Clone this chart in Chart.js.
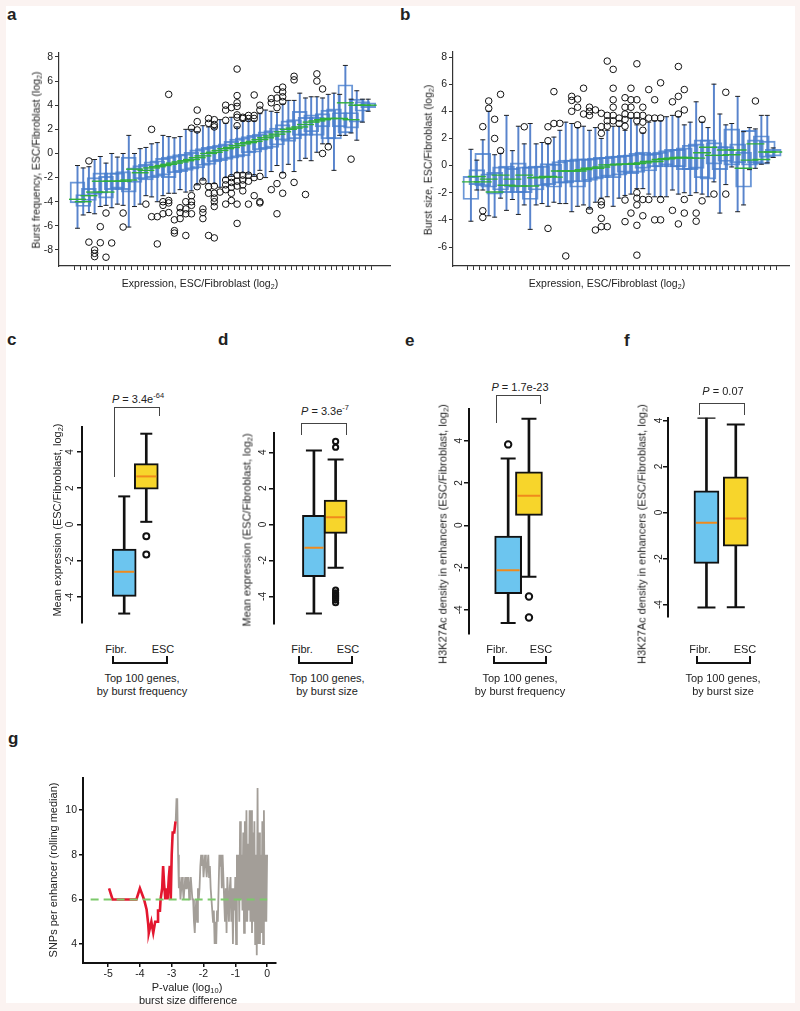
<!DOCTYPE html>
<html><head><meta charset="utf-8">
<script src="https://cdn.jsdelivr.net/npm/chart.js@4.4.1/dist/chart.umd.min.js"></script>
<style>
html,body{margin:0;padding:0;background:#fbf3f1;}
#wrap{position:relative;width:800px;height:1011px;overflow:hidden;font-family:"Liberation Sans",Arial,sans-serif;color:#222;}
#paper{position:absolute;left:6px;top:6px;width:789px;height:997px;background:#fff;}
canvas{position:absolute;}
.t{position:absolute;white-space:nowrap;transform:translate(-50%,-50%);font-size:11px;line-height:1;}
.r{transform:translate(-50%,-50%) rotate(-90deg);}
.L{position:absolute;font-weight:bold;font-size:17px;line-height:17px;}
.ln{position:absolute;}
sub{font-size:68%;vertical-align:-0.3em;line-height:0;}
sup{font-size:68%;vertical-align:0.55em;line-height:0;}
</style></head>
<body><div id="wrap"><div id="paper"></div></div>
<script>
// ---------------- Panel a : burst frequency vs expression bins ----------------
const aYTicks = [-8,-6,-4,-2,0,2,4,6,8];
const aMed = [-3.8,-4.0,-3.5,-3.2,-2.3,-3.2,-2.3,-2.3,-2.3,-2.2, -1.3,-1.6,-1.4,-1.2,-1.1,-1.0,-0.9,-0.8,-0.7,-0.6, -0.5,-0.35,-0.2,0.0,0.1,0.25,0.4,0.5,0.65,0.8, 0.9,1.0,1.15,1.3,1.45,1.6,1.8,2.0,2.1,2.2, 2.4,2.6,2.7,2.8,2.9,2.9,2.9,4.2,2.8,4.0, 4.0,4.0];
const aQ1  = [-4.1,-4.4,-3.9,-3.4,-3.3,-3.7,-3.0,-2.9,-3.0,-3.2, -2.4,-2.1,-2.2,-2.0,-1.9,-1.8,-2.0,-1.6,-1.5,-1.4, -1.3,-1.2,-1.0,-0.9,-0.7,-0.6,-0.5,-0.4,-0.3,-0.2, 0.0,0.1,0.3,0.4,0.5,0.7,1.1,1.0,1.2,1.5, 1.5,1.8,1.5,2.2,1.2,1.2,2.2,1.7,2.1,2.6, 3.5,3.8];
const aQ3  = [-2.35,-3.4,-2.9,-2.0,-1.6,-1.9,-1.6,-1.6,-1.5,-0.3, -1.2,-1.0,-0.9,-0.7,-0.6,-0.4,-0.3,-0.2,-0.1,0.0, 0.1,0.3,0.4,0.5,0.6,0.7,0.8,1.0,1.2,1.3, 1.4,1.5,1.6,1.8,1.9,2.1,2.4,2.7,2.8,3.5, 3.0,3.2,3.0,3.3,3.6,3.7,3.4,5.7,3.4,4.5, 4.3,4.2];
const aLo  = [-6.2,-5.1,-4.9,-5.0,-4.4,-4.3,-4.5,-4.2,-4.3,-6.1, -4.4,-4.2,-3.5,-3.6,-4.0,-3.5,-3.3,-3.3,-3.0,-3.2, -3.1,-2.6,-2.2,-2.5,-2.5,-2.8,-2.0,-1.9,-1.6,-1.6, -1.7,-1.9,-1.4,-2.0,-1.5,-1.0,-1.6,-0.9,-1.5,-0.6, -0.4,-0.6,0.1,0.8,0.8,-1.4,1.5,1.5,1.7,1.1, 2.6,3.5];
const aHi  = [-1.0,-1.2,-1.1,-0.5,-0.25,-0.8,0.0,-0.3,0.0,1.5, 0.0,0.4,0.5,0.8,0.9,1.5,1.4,1.3,1.4,2.0, 2.0,1.8,2.3,2.2,2.1,2.8,2.5,3.0,2.2,2.7, 2.8,2.7,3.3,3.6,3.5,3.4,4.1,4.4,4.4,5.0, 4.6,4.7,4.7,4.6,4.9,5.0,4.9,7.3,4.5,5.2, 4.5,4.5];
const aOutliers = [[3,-0.62],[3,-7.35],[4,-8.0],[4,-8.28],[4,-8.55],[5,-6.07],[5,-7.4],[6,-4.94],[6,-8.6],[7,-7.42],
 [9,-4.94],[9,-6.1],[13,-4.2],[14,2.0],[14,-5.24],[15,-5.24],[15,-7.5],[16,-4.0],[16,-4.3],[16,-5.0],
 [17,4.9],[17,-3.9],[17,-4.1],[17,-4.9],[18,-5.5],[18,-6.4],[18,-6.6],[19,-4.9],[19,-4.5],[19,-5.4],
 [20,-6.8],[20,-4.0],[20,-4.6],[20,-5.0],[21,2.1],[21,-3.5],[21,-4.0],[21,-4.3],[21,-5.0],
 [22,2.64],[22,3.6],[22,1.95],[22,-2.75],[23,-4.6],[23,-4.9],[23,-5.4],[23,-2.3],
 [24,2.9],[24,2.5],[24,-6.8],[24,-2.75],[24,-3.3],
 [25,2.8],[25,2.4],[25,2.2],[25,-2.7],[25,-3.3],[25,-3.7],[25,-4.0],[25,-4.4],[25,-7.0],[26,-3.2],
 [27,4.0],[27,2.75],[27,3.6],[27,-2.2],[27,-2.6],[27,-3.0],[27,-4.2],
 [28,3.8],[28,-2.0],[28,-2.4],[28,-2.8],[28,-3.3],[28,-3.9],
 [29,7.0],[29,4.8],[29,4.2],[29,3.9],[29,3.2],[29,3.0],[29,2.3],[29,-1.8],[29,-2.3],[29,-2.7],[29,-4.2],[29,-5.8],
 [30,3.0],[30,2.9],[30,-1.8],[30,-2.2],[30,-2.6],[30,-3.1],[31,3.15],[31,2.9],[31,-1.8],[31,-2.3],[31,-4.2],
 [32,4.85],[32,3.15],[32,2.9],[32,-2.0],[32,-3.5],[33,4.0],[33,3.6],[33,-1.9],[33,-4.0],[33,-4.1],
 [35,4.55],[35,4.2],[35,-3.0],[36,5.3],[36,4.6],[36,3.8],[36,-5.0],[36,-2.5],
 [37,5.5],[37,5.1],[37,4.7],[37,4.3],[37,-1.8],[37,-3.3],[39,6.4],[39,6.1],[39,-2.4],[41,-3.4],
 [43,6.6],[43,6.0],[44,5.35],[44,0.0],[45,0.55],[49,-0.47]];

// ---------------- Panel b : burst size vs expression bins ----------------
const bYTicks = [-6,-4,-2,0,2,4,6,8];
const bMed = [-1.2,-0.8,-1.2,-1.0,-1.95,-0.7,-1.45,-1.0,-1.5,-0.7, -1.5,-0.9,-0.85,-0.8,-0.85,-0.4,-0.4,-0.4,-0.4,-0.3, -0.2,-0.2,-0.1,0.05,0.05,0.1,0.1,0.1,0.15,0.2, 0.3,0.3,0.45,0.5,0.55,0.6,0.6,0.55,0.55,0.95, 1.35,0.75,0.75,1.15,0.8,1.15,-0.2,0.4,1.6,0.45, 1.0,1.0];
const bQ1  = [-2.5,-1.4,-1.5,-1.6,-2.1,-1.8,-2.0,-1.6,-2.0,-2.0, -2.5,-1.8,-1.5,-1.4,-1.6,-1.3,-1.3,-1.2,-1.6,-1.2, -1.1,-1.0,-0.9,-0.8,-0.9,-0.7,-0.5,-0.6,-0.5,-0.2, -0.4,-0.1,-0.1,0.0,-0.1,-0.1,-0.3,-0.3,-0.2,-0.9, -1.0,0.1,-0.3,0.3,0.0,0.2,-1.6,0.0,0.2,0.1, 0.6,0.7];
const bQ3  = [-0.8,-0.3,0.9,-0.6,-0.5,-0.1,0.0,-0.2,0.2,-0.1, -0.1,0.0,0.0,0.15,0.1,0.3,0.4,0.4,0.5,0.5, 0.5,0.55,0.6,0.6,0.7,0.7,0.75,0.8,0.9,1.0, 0.85,0.9,1.0,1.1,1.2,1.2,1.3,1.5,1.6,1.9, 1.9,1.7,1.4,1.4,2.7,1.6,1.0,2.6,1.9,2.2, 1.8,1.2];
const bLo  = [-4.1,-1.8,-1.8,-3.7,-3.8,-2.4,-3.3,-2.5,-3.6,-2.9, -4.7,-2.9,-2.8,-3.0,-2.7,-2.8,-2.8,-3.4,-3.0,-2.9, -3.2,-2.7,-2.4,-2.3,-3.0,-2.4,-2.2,-2.1,-1.7,-1.7, -2.1,-2.3,-2.3,-2.3,-1.8,-2.1,-2.0,-2.2,-2.0,-2.1, -2.3,-1.2,-3.5,-1.4,-0.1,-3.4,-2.9,-0.3,-0.2,0.1, 0.2,0.6];
const bHi  = [1.2,0.4,1.9,4.0,0.8,0.9,3.7,1.1,2.9,1.6, 3.1,1.6,1.7,1.6,2.1,2.6,3.2,3.1,2.8,2.9, 2.6,2.8,2.0,2.6,2.9,2.9,2.6,3.5,3.0,2.4, 3.2,3.3,3.3,3.6,3.7,3.6,3.0,3.2,4.7,3.2, 2.8,6.0,3.8,3.0,3.1,5.1,2.5,2.8,2.7,3.7, 3.7,1.3];
const bOutliers = [[3,2.87],[3,-3.33],[3,-3.82],[4,4.76],[4,4.22],[5,3.41],[5,2.0],[6,5.25],[6,1.1],[10,2.86],
 [14,2.86],[14,1.83],[14,-4.63],[15,5.45],[15,3.1],[16,3.11],[17,-6.66],[18,5.1],[18,4.8],[18,4.0],
 [19,4.9],[19,4.3],[19,3.0],[20,5.7],[20,3.8],[21,4.3],[21,4.0],[21,3.7],[21,-3.3],[22,-4.75],[22,4.1],
 [23,3.85],[23,2.87],[23,2.38],[23,-2.66],[23,-2.9],[23,-3.89],[23,-4.5],
 [24,7.7],[24,3.7],[24,3.3],[24,2.9],[24,-4.5],[25,7.09],[25,5.7],[25,4.85],[25,4.3],[25,3.7],[25,3.3],
 [26,3.5],[26,3.1],[27,5.0],[27,4.3],[27,3.8],[27,3.4],[27,2.9],[27,-2.54],[27,-4.13],
 [28,5.7],[28,4.85],[28,4.3],[28,3.7],[28,-3.5],
 [29,7.5],[29,4.85],[29,3.7],[29,3.3],[29,-2.0],[29,-2.4],[29,-2.9],[29,-4.4],[29,-6.6],
 [30,4.3],[30,3.7],[30,3.2],[30,2.6],[30,-2.5],[30,-3.7],[31,5.6],[31,3.5],[31,-2.5],[32,4.85],[32,3.5],[32,-4.0],
 [33,6.1],[33,3.5],[33,-4.0],[33,-2.5],[35,4.7],[35,-3.3],[36,7.3],[36,5.1],[36,3.8],[36,-4.3],
 [37,5.6],[37,4.1],[37,-2.5],[37,-3.5],[39,-3.5],[39,-4.1],[40,3.4],[40,-2.6],[42,-2.1],[44,5.4],[44,-2.1],[49,4.76]];

// ---------------- Panels c-f : top 100 genes (Fibr., ESC) ----------------
const groups = ['Fibr.','ESC'];
const cLo=[-4.9,0.15], cQ1=[-3.95,1.95], cMed=[-2.6,2.65], cQ3=[-1.35,3.35], cHi=[1.55,5.0];
const cOutX=[2,2], cOutY=[-0.65,-1.65];
const dLo=[-4.95,-2.4], dQ1=[-2.9,-0.5], dMed=[-1.3,0.4], dQ3=[0.5,1.35], dHi=[4.1,3.6];
const dOutX=[2,2,2,2,2,2,2,2,2], dOutY=[4.6,4.28,-3.65,-3.8,-3.9,-4.0,-4.1,-4.2,-4.35];
const eLo=[-4.62,-2.43], eQ1=[-3.23,0.47], eMed=[-2.13,1.4], eQ3=[-0.51,2.53], eHi=[3.16,5.05];
const eOutX=[1,2,2], eOutY=[3.83,-3.37,-4.36];
const fLo=[-4.13,-4.12], fQ1=[-2.21,-1.46], fMed=[-0.45,-0.26], fQ3=[0.94,1.55], fHi=[4.12,3.83];
const fOutX=[], fOutY=[];
const smallYTicks=[-4,-2,0,2,4];

// ---------------- Panel g : rolling median SNPs per enhancer ----------------
const gXTicks=[-5,-4,-3,-2,-1,0];
const gYTicks=[4,6,8,10];
const gRedX=[-4.97,-4.86,-4.11,-4.0,-3.87,-3.79,-3.74,-3.72,-3.64,-3.58,-3.52,-3.43,-3.43,-3.37,-3.35,-3.30,-3.27,-3.24,-3.20,-3.17,-3.13,-3.09,-3.06,-3.03,-3.0,-2.97,-2.92,-2.88];
const gRedY=[6.5,6.0,6.0,6.5,6.0,5.55,4.9,4.5,5.0,4.5,5.0,5.0,5.5,5.5,6.0,6.5,7.5,6.7,6.0,6.5,6.0,7.0,7.5,6.0,8.0,9.0,9.0,9.5];
const gGreyX=[-2.875,-2.85,-2.825,-2.8,-2.775,-2.75,-2.725,-2.7,-2.675,-2.65,
 -2.625,-2.6,-2.575,-2.55,-2.525,-2.5,-2.475,-2.45,-2.425,-2.4,
 -2.375,-2.35,-2.325,-2.3,-2.275,-2.25,-2.225,-2.2,-2.175,-2.15,
 -2.125,-2.1,-2.075,-2.05,-2.025,-2.0,-1.975,-1.95,-1.925,-1.9,
 -1.875,-1.85,-1.825,-1.8,-1.775,-1.75,-1.725,-1.7,-1.675,-1.65,
 -1.625,-1.6,-1.575,-1.55,-1.525,-1.5,-1.475,-1.45,-1.425,-1.4,
 -1.375,-1.35,-1.325,-1.3,-1.275,-1.25,-1.225,-1.2,-1.175,-1.15,
 -1.125,-1.1,-1.075,-1.05,-1.025,-1.0,-0.975,-0.95,-0.925,-0.9,
 -0.875,-0.85,-0.825,-0.8,-0.775,-0.75,-0.725,-0.7,-0.675,-0.65,
 -0.625,-0.6,-0.575,-0.55,-0.525,-0.5,-0.475,-0.45,-0.425,-0.4,
 -0.375,-0.35,-0.325,-0.3,-0.275,-0.25,-0.225,-0.2,-0.175,-0.15,
 -0.125,-0.1,-0.075,-0.05,-0.025,0.0];
const gGreyY=[9.5,10.5,10.5,8.0,
 6.5,7.0,6.0,6.5,7.0,6.5,6.0,6.5,7.0,6.5,
 7.0,6.5,7.0,6.0,6.5,7.0,6.5,6.0,
 6.0,5.0,4.5,5.5,6.0,5.0,6.5,6.0,
 6.5,7.5,8.0,7.5,8.0,7.0,7.5,8.0,
 7.5,7.0,7.5,8.0,7.0,7.5,6.5,6.0,
 5.5,5.0,5.5,4.0,5.0,4.0,5.5,5.0,
 6.5,8.0,7.5,8.0,6.5,8.0,7.0,6.0,
 5.0,6.5,4.5,7.0,6.0,5.0,6.5,7.0,
 5.0,6.5,4.0,6.5,5.5,7.0,4.0,8.0,
 6.0,8.0,5.0,9.5,6.0,8.0,5.5,9.0,
 4.5,9.5,5.0,10.0,5.0,8.5,5.5,10.0,
 5.0,10.0,4.5,9.0,5.0,9.5,4.0,8.0,
 3.5,11.0,4.0,9.0,4.0,8.0,4.5,9.5,
 4.0,10.0,5.0,8.0,5.0,8.0];
const gRefX=[-5.55,0], gRefY=[6,6];

// ---------------- helpers ----------------
const FONT='"Liberation Sans", Arial, sans-serif';
Chart.defaults.font.family=FONT;
Chart.defaults.color='#222';
const wrap=document.getElementById('wrap');

function makeChart(left,top,w,h,config){
  const c=document.createElement('canvas');
  c.width=w;c.height=h;c.style.left=left+'px';c.style.top=top+'px';c.style.width=w+'px';c.style.height=h+'px';
  wrap.appendChild(c);
  config.options=Object.assign({responsive:false,animation:false,events:[],devicePixelRatio:1},config.options);
  config.options.plugins=Object.assign({legend:{display:false},tooltip:{enabled:false}},config.options.plugins||{});
  return new Chart(c.getContext('2d'),config);
}
function boxSets(xs,lo,q1,med,q3,hi,ox,oy,s){
  const caps=[];
  xs.forEach((x,i)=>{caps.push({x,y:lo[i]});caps.push({x,y:hi[i]});});
  return [
    {type:'bar',data:xs.map((x,i)=>({x,y:[lo[i],hi[i]]})),barThickness:s.ww,backgroundColor:s.wc,borderWidth:0,grouped:false,order:5},
    {type:'bar',data:xs.map((x,i)=>({x,y:[q1[i],q3[i]]})),barThickness:s.bw,backgroundColor:s.bf,borderColor:s.bc,borderWidth:s.bbw,borderSkipped:false,grouped:false,order:4},
    {type:'scatter',data:caps,pointStyle:'line',pointRadius:s.cr,pointBorderColor:s.cc,pointBorderWidth:s.cbw,order:3},
    {type:'scatter',data:xs.map((x,i)=>({x,y:med[i]})),pointStyle:'line',pointRadius:s.mr,pointBorderColor:s.mc,pointBorderWidth:s.mbw,order:2},
    {type:'scatter',data:ox.map((x,i)=>({x,y:oy[i]})),pointStyle:'circle',pointRadius:s.or,pointBorderColor:'#111',pointBackgroundColor:'rgba(0,0,0,0)',pointBorderWidth:s.obw,order:1}
  ];
}
const setTicks=vals=>s=>{s.ticks=vals.map(v=>({value:v}));};
const axisGrid={display:true,drawOnChartArea:false,drawTicks:true,tickLength:4,color:'#333',lineWidth:1};

// rotated y tick labels for panels c-f (positions from the chart's own y scale)
const rotTicks={id:'rotTicks',afterDraw(chart,args,opts){
  const s=chart.scales.y,ctx=chart.ctx;
  ctx.save();ctx.font='10px '+FONT;ctx.fillStyle='#222';ctx.textAlign='center';ctx.textBaseline='middle';
  s.ticks.forEach(t=>{const y=s.getPixelForValue(t.value);ctx.save();ctx.translate(s.right-opts.off,y);ctx.rotate(-Math.PI/2);ctx.fillText(String(t.value),0,0);ctx.restore();});
  ctx.restore();
}};

// ---------------- panels a, b ----------------
function bigPanel(left,top,w,h,cfg){
  const xs=cfg.med.map((v,i)=>i+1);
  const st={ww:1.3,wc:'rgba(60,110,195,0.85)',bw:cfg.bw,bf:'rgba(0,0,0,0)',bc:'rgba(70,125,205,0.8)',bbw:1.3,cr:2.5,cc:'#222',cbw:1,mr:cfg.bw/2+1,mc:'#2fae3c',mbw:1.4,or:3.3,obw:1};
  return makeChart(left,top,w,h,{type:'bar',
    data:{datasets:boxSets(xs,cfg.lo,cfg.q1,cfg.med,cfg.q3,cfg.hi,cfg.out.map(p=>p[0]),cfg.out.map(p=>p[1]),st)},
    options:{layout:{padding:cfg.pad},
      scales:{
        x:{type:'linear',min:cfg.xmin,max:cfg.xmax,afterBuildTicks:setTicks(xs),ticks:{display:false},grid:axisGrid,border:{display:true,color:'#333',width:1.2},afterFit:s=>{s.height=cfg.xh;}},
        y:{type:'linear',min:cfg.ymin,max:cfg.ymax,afterBuildTicks:setTicks(cfg.yt),ticks:{font:{size:10.5},color:'#222',padding:2},grid:axisGrid,border:{display:true,color:'#333',width:1.2},afterFit:s=>{s.width=cfg.yw;}}
      }}});
}
bigPanel(0,40,400,250,{med:aMed,q1:aQ1,q3:aQ3,lo:aLo,hi:aHi,out:aOutliers,bw:15,pad:{left:0,top:13,right:2,bottom:0},xmin:-1.689,xmax:55.29,xh:24,ymin:-9.33,ymax:8.33,yt:aYTicks,yw:59});
bigPanel(400,40,400,250,{med:bMed,q1:bQ1,q3:bQ3,lo:bLo,hi:bHi,out:bOutliers,bw:16,pad:{left:0,top:12,right:10,bottom:0},xmin:-1.479,xmax:54.22,xh:24,ymin:-7.40,ymax:8.37,yt:bYTicks,yw:53});

// ---------------- panels c-f ----------------
function smallPanel(left,top,w,h,cfg){
  const xs=[1,2];
  const st={ww:2,wc:'#111',bw:cfg.bw,bf:['#6cc5ef','#f7d52b'],bc:'#111',bbw:2,cr:cfg.cr,cc:'#111',cbw:2,mr:cfg.bw/2-2,mc:'#f08a1c',mbw:2,or:cfg.or,obw:2};
  return makeChart(left,top,w,h,{type:'bar',
    data:{datasets:boxSets(xs,cfg.lo,cfg.q1,cfg.med,cfg.q3,cfg.hi,cfg.ox,cfg.oy,st)},
    plugins:[rotTicks],
    options:{layout:{padding:cfg.pad},plugins:{rotTicks:{off:cfg.off}},
      scales:{
        x:{type:'linear',display:false,min:cfg.xmin,max:cfg.xmax},
        y:{type:'linear',min:cfg.ymin,max:cfg.ymax,afterBuildTicks:setTicks(smallYTicks),ticks:{display:false},grid:Object.assign({},axisGrid,{tickLength:5,lineWidth:1.5,color:'#111'}),border:{display:true,color:'#111',width:2},afterFit:s=>{s.width=cfg.yw;}}
      }}});
}
smallPanel(40,415,160,220,{lo:cLo,q1:cQ1,med:cMed,q3:cQ3,hi:cHi,ox:cOutX,oy:cOutY,bw:24,cr:6,or:3,pad:{left:0,top:10,right:10,bottom:5},xmin:0.2889,xmax:2.6889,ymin:-5.42,ymax:5.37,yw:42,off:12});
smallPanel(230,420,160,215,{lo:dLo,q1:dQ1,med:dMed,q3:dQ3,hi:dHi,ox:dOutX,oy:dOutY,bw:23,cr:8,or:2.6,pad:{left:0,top:13,right:10,bottom:5},xmin:0.3636,xmax:2.7727,ymin:-5.5,ymax:5.07,yw:44,off:11});
smallPanel(425,395,160,252,{lo:eLo,q1:eQ1,med:eMed,q3:eQ3,hi:eHi,ox:eOutX,oy:eOutY,bw:27,cr:7.5,or:3.2,pad:{left:0,top:10,right:10,bottom:5},xmin:0.349,xmax:2.814,ymin:-5.12,ymax:5.53,yw:44,off:10});
smallPanel(624,405,166,224,{lo:fLo,q1:fQ1,med:fMed,q3:fQ3,hi:fHi,ox:fOutX,oy:fOutY,bw:25,cr:9,or:3,pad:{left:0,top:10,right:10,bottom:5},xmin:0.311,xmax:2.8,ymin:-4.52,ymax:4.13,yw:44,off:9});

// ---------------- panel g ----------------
makeChart(0,770,290,215,{type:'line',
  data:{datasets:[
    {data:gRefX.map((x,i)=>({x,y:gRefY[i]})),borderColor:'#7cc96b',borderWidth:2,borderDash:[8,5],pointRadius:0,order:1},
    {data:gRedX.map((x,i)=>({x,y:gRedY[i]})),borderColor:'#e3172f',borderWidth:2.6,pointRadius:0,tension:0,order:2},
    {data:gGreyX.map((x,i)=>({x,y:gGreyY[i]})),borderColor:'#a39e98',borderWidth:1.8,pointRadius:0,tension:0,order:3}
  ]},
  options:{layout:{padding:{left:0,top:8,right:14,bottom:0}},
    scales:{
      x:{type:'linear',min:-5.79,max:0.28,afterBuildTicks:setTicks(gXTicks),ticks:{font:{size:10.5},color:'#222',padding:1},grid:Object.assign({},axisGrid,{color:'#111',lineWidth:1.5}),border:{display:true,color:'#111',width:2},afterFit:s=>{s.height=22;}},
      y:{type:'linear',min:3.15,max:11.43,afterBuildTicks:setTicks(gYTicks),ticks:{font:{size:10.5},color:'#222',padding:2},grid:Object.assign({},axisGrid,{color:'#111',lineWidth:1.5}),border:{display:true,color:'#111',width:2},afterFit:s=>{s.width=83;}}
    }}});

// ---------------- text & annotation overlay ----------------
function T(html,x,y,cls,size){const d=document.createElement('div');d.className='t'+(cls?' '+cls:'');d.innerHTML=html;d.style.left=x+'px';d.style.top=y+'px';if(size)d.style.fontSize=size+'px';wrap.appendChild(d);}
function Lt(ch,x,y){const d=document.createElement('div');d.className='L';d.textContent=ch;d.style.left=x+'px';d.style.top=y+'px';wrap.appendChild(d);}
function H(x1,x2,y,w,c){const d=document.createElement('div');d.className='ln';d.style.left=x1+'px';d.style.top=(y-w/2)+'px';d.style.width=(x2-x1)+'px';d.style.height=w+'px';d.style.background=c;wrap.appendChild(d);}
function V(x,y1,y2,w,c){const d=document.createElement('div');d.className='ln';d.style.left=(x-w/2)+'px';d.style.top=y1+'px';d.style.width=w+'px';d.style.height=(y2-y1)+'px';d.style.background=c;wrap.appendChild(d);}

Lt('a',7,6);Lt('b',400,6);Lt('c',7,331);Lt('d',218,331);Lt('e',405,332);Lt('f',624,332);Lt('g',8,730);

T('Expression, ESC/Fibroblast (log<sub>2</sub>)',200,283,'',10.5);
T('Burst frequency, ESC/Fibroblast (log<sub>2</sub>)',36,160,'r',10.5);
T('Expression, ESC/Fibroblast (log<sub>2</sub>)',607,283,'',10.5);
T('Burst size, ESC/Fibroblast (log<sub>2</sub>)',428,160,'r',10.5);
T('Mean expression (ESC/Fibroblast, log<sub>2</sub>)',57,520,'r',11);
T('Mean expression (ESC/Fibroblast, log<sub>2</sub>)',247,530,'r',11);
T('H3K27Ac density in enhancers (ESC/Fibroblast, log<sub>2</sub>)',443,534,'r',11);
T('H3K27Ac density in enhancers (ESC/Fibroblast, log<sub>2</sub>)',642,534,'r',11);
T('SNPs per enhancer (rolling median)',53,870,'r',11);
T('P-value (log<sub>10</sub>)',187,987,'',11);
T('burst size difference',188,1000,'',11);

// p-value brackets
T('<i>P</i> = 3.4e<sup>-64</sup>',138,399,'',11);
V(114,407,477,1,'#444');H(114,159.5,407.5,1,'#444');V(159,407,416,1,'#444');
T('<i>P</i> = 3.3e<sup>-7</sup>',325,411,'',11);
V(301,423,435,1,'#444');H(301,346.5,423.5,1,'#444');V(346,423,435,1,'#444');
T('<i>P</i> = 1.7e-23',520,387,'',11);
V(496,395,423,1,'#444');H(496,540.5,395.5,1,'#444');V(540,395,404,1,'#444');
T('<i>P</i> = 0.07',723,391,'',11);
V(699,403,415,1,'#444');H(699,744.5,403.5,1,'#444');V(744,403,415,1,'#444');

// group labels and bottom brackets
const bottoms=[[116,163,113,167,142,'by burst frequency'],[302,348,299,352,327,'by burst size'],[497,541,494,546,520,'by burst frequency'],[700,745,697,750,723,'by burst size']];
bottoms.forEach(b=>{
  T(groups[0],b[0],649,'',11);T(groups[1],b[1],649,'',11);
  V(b[2],656,664,2,'#111');V(b[3],656,664,2,'#111');H(b[2]-1,b[3]+1,663,2,'#111');
  T('Top 100 genes,',b[4],678,'',11);T(b[5],b[4],691,'',11);
});
</script></body></html>
